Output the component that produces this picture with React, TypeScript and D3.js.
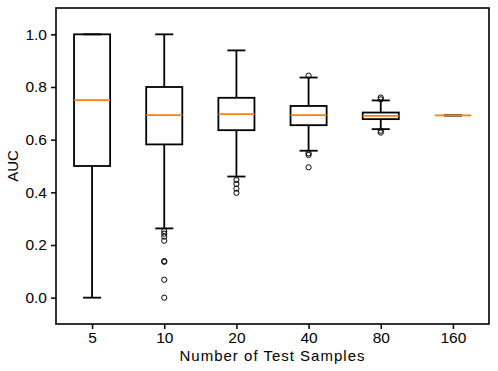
import React, { useEffect, useRef } from 'react';
import * as d3 from 'd3';

// data
const categories = ['5', '10', '20', '40', '80', '160'];
const whiskerLow = [0.0, 0.263, 0.46, 0.558, 0.64, 0.692];
const q1 = [0.5, 0.582, 0.636, 0.655, 0.678, 0.692];
const median = [0.75, 0.693, 0.697, 0.693, 0.69, 0.692];
const q3 = [1.0, 0.8, 0.759, 0.728, 0.703, 0.692];
const whiskerHigh = [1.0, 1.0, 0.939, 0.836, 0.749, 0.692];
const fliers = [
  [],
  [0.253, 0.243, 0.232, 0.216, 0.139, 0.136, 0.068, 0.0],
  [0.447, 0.432, 0.414, 0.398],
  [0.843, 0.548, 0.542, 0.495],
  [0.76, 0.753, 0.634, 0.627],
  [],
];
const yTicks = [0.0, 0.2, 0.4, 0.6, 0.8, 1.0];

const W = 498;
const H = 371;
const margin = { top: 8, right: 9, bottom: 47, left: 56 };
const FONT = 'Liberation Sans, Arial, sans-serif';

const App = () => {
  const svgRef = useRef<SVGSVGElement>(null);

  useEffect(() => {
    const svg = d3.select(svgRef.current);
    svg.selectAll('*').remove();

    const x = d3.scaleLinear()
      .domain([0.5, categories.length + 0.5])
      .range([margin.left, W - margin.right]);

    const y = d3.scaleLinear()
      .domain([-0.1, 1.1])
      .range([H - margin.bottom, margin.top]);

    const boxW = x(1.5) - x(1);
    const capW = boxW / 2;
    const lw = 1.8;

    // ejes
    const yAxis = d3.axisLeft(y)
      .tickValues(yTicks)
      .tickFormat(d3.format('.1f'))
      .tickSize(5)
      .tickPadding(4);

    svg.append('g')
      .attr('transform', `translate(${margin.left},0)`)
      .call(yAxis)
      .call(g => {
        g.select('.domain').remove();
        g.selectAll('.tick line').attr('stroke-width', 1.5);
        g.selectAll('.tick text')
          .attr('font-size', 15.5)
          .attr('font-family', FONT)
          .attr('fill', '#000');
      });

    const xAxis = d3.axisBottom(x)
      .tickValues(categories.map((_, i) => i + 1))
      .tickFormat((d, i) => categories[i])
      .tickSize(5)
      .tickPadding(3);

    svg.append('g')
      .attr('transform', `translate(0,${H - margin.bottom})`)
      .call(xAxis)
      .call(g => {
        g.select('.domain').remove();
        g.selectAll('.tick line').attr('stroke-width', 1.5);
        g.selectAll('.tick text')
          .attr('font-size', 15.5)
          .attr('font-family', FONT)
          .attr('fill', '#000');
      });

    // cajas
    const boxes = svg.append('g');
    categories.forEach((c, i) => {
      const cx = x(i + 1);
      const g = boxes.append('g');

      // bigotes
      g.append('line')
        .attr('x1', cx).attr('x2', cx)
        .attr('y1', y(whiskerLow[i])).attr('y2', y(q1[i]))
        .attr('stroke', '#000').attr('stroke-width', lw);
      g.append('line')
        .attr('x1', cx).attr('x2', cx)
        .attr('y1', y(q3[i])).attr('y2', y(whiskerHigh[i]))
        .attr('stroke', '#000').attr('stroke-width', lw);
      [whiskerLow[i], whiskerHigh[i]].forEach(v => {
        g.append('line')
          .attr('x1', cx - capW / 2).attr('x2', cx + capW / 2)
          .attr('y1', y(v)).attr('y2', y(v))
          .attr('stroke', '#000').attr('stroke-width', lw);
      });

      g.append('rect')
        .attr('x', cx - boxW / 2)
        .attr('y', y(q3[i]))
        .attr('width', boxW)
        .attr('height', Math.max(0, y(q1[i]) - y(q3[i])))
        .attr('fill', 'none')
        .attr('stroke', '#000')
        .attr('stroke-width', lw);

      g.append('line')
        .attr('x1', cx - boxW / 2).attr('x2', cx + boxW / 2)
        .attr('y1', y(median[i])).attr('y2', y(median[i]))
        .attr('stroke', '#ff7f0e').attr('stroke-width', lw);

      g.selectAll('circle')
        .data(fliers[i])
        .enter()
        .append('circle')
        .attr('cx', cx)
        .attr('cy', d => y(d))
        .attr('r', 2.6)
        .attr('fill', 'none')
        .attr('stroke', '#000')
        .attr('stroke-width', 1);
    });

    // marco
    svg.append('rect')
      .attr('x', margin.left)
      .attr('y', margin.top)
      .attr('width', W - margin.left - margin.right)
      .attr('height', H - margin.top - margin.bottom)
      .attr('fill', 'none')
      .attr('stroke', '#000')
      .attr('stroke-width', 1.6);

    // etiquetas
    svg.append('text')
      .attr('x', (margin.left + W - margin.right) / 2)
      .attr('y', 361)
      .attr('text-anchor', 'middle')
      .attr('font-size', 15)
      .attr('letter-spacing', 1)
      .attr('font-family', FONT)
      .text('Number of Test Samples');

    svg.append('text')
      .attr('transform', `translate(18,${(margin.top + H - margin.bottom) / 2}) rotate(-90)`)
      .attr('text-anchor', 'middle')
      .attr('font-size', 15)
      .attr('font-family', FONT)
      .text('AUC');
  }, []);

  return (
    <svg
      ref={svgRef}
      width={W}
      height={H}
      style={{ position: 'absolute', left: 0, top: 0, background: '#fff' }}
    />
  );
};

export default App;
